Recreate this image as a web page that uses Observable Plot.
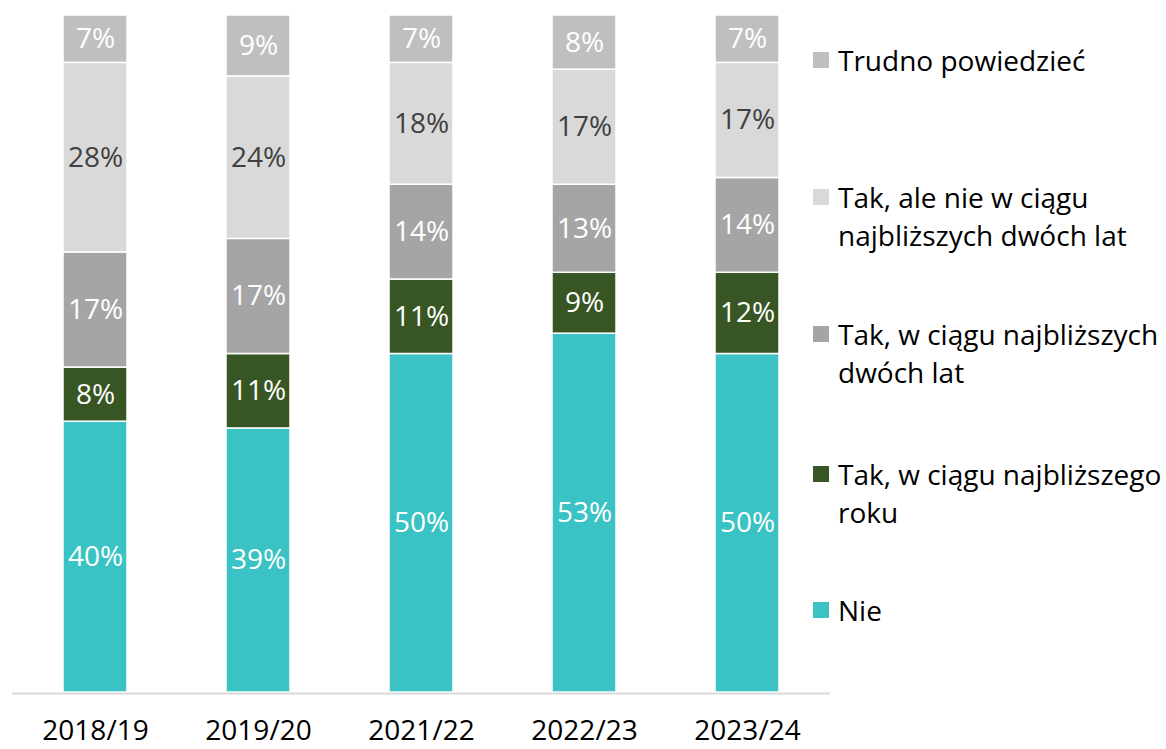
<!DOCTYPE html>
<html>
<head>
<meta charset="utf-8">
<script src="https://cdn.jsdelivr.net/npm/d3@7"></script>
<script src="https://cdn.jsdelivr.net/npm/@observablehq/plot@0.6"></script>
<style>
  body { margin: 0; background: white; }
  #wrap { position: relative; width: 1166px; height: 749px; font-family: "Open Sans", sans-serif; }
  #legend { position: absolute; left: 813px; top: 0; }
  .entry { position: absolute; left: 0; white-space: nowrap; font-size: 28px; line-height: 38px; color: #000; }
  .sw { position: absolute; left: 0; top: 11px; width: 16px; height: 16px; }
  .txt { position: absolute; left: 25px; top: 0; }
</style>
</head>
<body>
<div id="wrap"><div id="legend"></div></div>
<script>
const years = ["2018/19", "2019/20", "2021/22", "2022/23", "2023/24"];
const series = [
  "Nie",
  "Tak, w ciągu najbliższego roku",
  "Tak, w ciągu najbliższych dwóch lat",
  "Tak, ale nie w ciągu najbliższych dwóch lat",
  "Trudno powiedzieć"
];
const nie = [40, 39, 50, 53, 50];
const rok = [8, 11, 11, 9, 12];
const dwaLata = [17, 17, 14, 13, 14];
const aleNie = [28, 24, 18, 17, 17];
const trudno = [7, 9, 7, 8, 7];
const colors = ["#3BC2C4", "#375623", "#A5A5A5", "#D9D9D9", "#BFBFBF"];
const labelColors = ["#FFFFFF", "#FFFFFF", "#FFFFFF", "#404040", "#FFFFFF"];
const legendLines = [
  ["Trudno powiedzieć"],
  ["Tak, ale nie w ciągu", "najbliższych dwóch lat"],
  ["Tak, w ciągu najbliższych", "dwóch lat"],
  ["Tak, w ciągu najbliższego", "roku"],
  ["Nie"]
];
const legendSeriesIndex = [4, 3, 2, 1, 0];
const legendCenters = [60, 197, 334, 474, 610];

const valuesBySeries = [nie, rok, dwaLata, aleNie, trudno];
const data = [];
years.forEach((yr, i) => {
  series.forEach((s, j) => {
    data.push({year: yr, series: s, si: j, value: valuesBySeries[j][i]});
  });
});

const chart = Plot.plot({
  width: 1166,
  height: 749,
  marginLeft: 12,
  marginRight: 336,
  marginTop: 15,
  marginBottom: 57,
  x: {domain: years, paddingInner: 0.61, paddingOuter: 0.305, label: null},
  y: {domain: [0, 100], axis: null},
  color: {domain: series, range: colors},
  style: {fontFamily: "'Open Sans', sans-serif", fontSize: "28px", color: "#000", background: "white", overflow: "visible"},
  marks: [
    Plot.barY(data, {x: "year", y: "value", z: "series", fill: "series", stroke: "white", strokeWidth: 1.5}),
    Plot.ruleY([0], {stroke: "#D9D9D9", strokeWidth: 2, dy: 1}),
    Plot.text(data, Plot.stackY({x: "year", y: "value", z: "series", text: d => d.value + "%", fill: d => labelColors[d.si], fontSize: 28})),
    Plot.axisX({tickSize: 0, tickPadding: 28, fontSize: 28, fill: "#000", label: null})
  ]
});
document.getElementById("wrap").prepend(chart);

const legend = document.getElementById("legend");
legendLines.forEach((lines, k) => {
  const e = document.createElement("div");
  e.className = "entry";
  e.style.top = (legendCenters[k] - 19) + "px";
  const sw = document.createElement("span");
  sw.className = "sw";
  sw.style.background = colors[legendSeriesIndex[k]];
  const t = document.createElement("span");
  t.className = "txt";
  t.innerHTML = lines.join("<br>");
  e.appendChild(sw);
  e.appendChild(t);
  legend.appendChild(e);
});
</script>
</body>
</html>
